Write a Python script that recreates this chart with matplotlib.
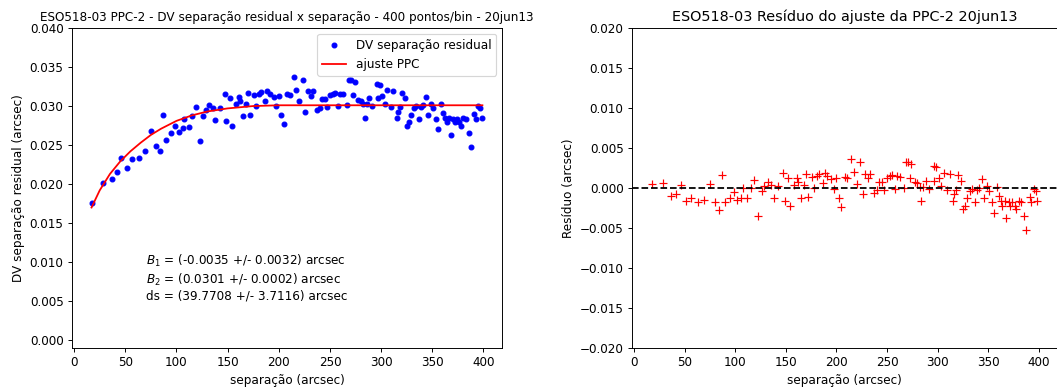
import matplotlib
matplotlib.use("Agg")
import matplotlib.pyplot as plt
import numpy as np

# binned points: separation (arcsec) and residual DV separation (arcsec)
sep = [17.3, 28.1, 36.9, 41.8, 46.0, 51.5, 56.4, 63.0, 69.5, 75.0,
       80.3, 83.5, 86.8, 89.4, 94.6, 98.9, 102.1, 106.0, 107.6, 111.9,
       115.1, 119.0, 122.7, 126.0, 128.9, 132.1, 135.4, 138.0, 142.3, 147.2,
       148.8, 152.0, 154.3, 158.2, 160.8, 162.5, 164.8, 168.0, 170.0, 172.3,
       175.5, 178.2, 180.4, 183.0, 186.3, 188.6, 191.2, 195.1, 197.7, 200.0,
       202.6, 204.9, 208.1, 210.8, 214.7, 217.3, 220.2, 223.5, 226.1, 228.4,
       231.6, 233.3, 237.5, 240.1, 242.4, 244.7, 247.3, 250.5, 252.8, 255.4,
       257.7, 259.6, 262.9, 266.8, 268.4, 270.7, 272.6, 274.0, 277.6, 279.9,
       282.2, 283.8, 285.8, 288.1, 291.4, 296.2, 296.9, 298.8, 301.1, 303.4,
       306.0, 309.3, 311.9, 315.1, 316.5, 318.4, 320.7, 323.0, 325.0, 327.2,
       329.5, 332.1, 333.8, 337.0, 338.7, 341.3, 343.9, 346.2, 348.5, 351.1,
       353.4, 355.7, 358.3, 360.6, 362.5, 364.2, 366.5, 368.1, 370.7, 372.1,
       374.0, 376.3, 377.9, 380.5, 382.8, 385.4, 387.7, 391.0, 392.6, 394.9,
       396.9, 398.5]
dv = [0.0176, 0.0202, 0.0206, 0.0216, 0.0234, 0.0221, 0.0232, 0.0234, 0.0242, 0.0268,
      0.0249, 0.0243, 0.0288, 0.0257, 0.0265, 0.0275, 0.0267, 0.0272, 0.0284, 0.0273,
      0.0287, 0.0299, 0.0255, 0.0287, 0.0295, 0.0301, 0.0298, 0.0282, 0.0297, 0.0315,
      0.0281, 0.0310, 0.0274, 0.0302, 0.0311, 0.0306, 0.0287, 0.0303, 0.0317, 0.0288,
      0.0314, 0.0300, 0.0315, 0.0318, 0.0306, 0.0319, 0.0315, 0.0312, 0.0300, 0.0313,
      0.0288, 0.0277, 0.0315, 0.0314, 0.0337, 0.0321, 0.0306, 0.0333, 0.0293, 0.0319,
      0.0313, 0.0319, 0.0295, 0.0298, 0.0309, 0.0309, 0.0299, 0.0314, 0.0316, 0.0317,
      0.0300, 0.0316, 0.0315, 0.0301, 0.0334, 0.0333, 0.0314, 0.0331, 0.0308, 0.0307,
      0.0302, 0.0285, 0.0302, 0.0310, 0.0300, 0.0328, 0.0310, 0.0327, 0.0313, 0.0303,
      0.0320, 0.0299, 0.0319, 0.0285, 0.0293, 0.0299, 0.0317, 0.0310, 0.0275, 0.0279,
      0.0289, 0.0297, 0.0300, 0.0283, 0.0299, 0.0301, 0.0312, 0.0288, 0.0303, 0.0297,
      0.0283, 0.0270, 0.0302, 0.0291, 0.0285, 0.0279, 0.0285, 0.0263, 0.0283, 0.0279,
      0.0284, 0.0279, 0.0275, 0.0285, 0.0283, 0.0266, 0.0248, 0.0290, 0.0284, 0.0300,
      0.0297, 0.0285]

# residuals of the fit at the same separations
resid = [0.0005, 0.0006, -0.0010, -0.0008, 0.0004, -0.0016, -0.0012, -0.0017, -0.0015, 0.0005,
         -0.0018, -0.0027, 0.0016, -0.0017, -0.0013, -0.0005, -0.0015, -0.0012, 0.0000, -0.0013,
         0.0000, 0.0010, -0.0035, -0.0004, 0.0003, 0.0008, 0.0004, -0.0013, 0.0002, 0.0019,
         -0.0016, 0.0013, -0.0023, 0.0004, 0.0013, 0.0008, -0.0012, 0.0004, 0.0018, -0.0011,
         0.0014, 0.0000, 0.0015, 0.0018, 0.0006, 0.0019, 0.0015, 0.0011, -0.0001, 0.0012,
         -0.0013, -0.0024, 0.0014, 0.0013, 0.0036, 0.0020, 0.0005, 0.0032, -0.0008, 0.0018,
         0.0012, 0.0018, -0.0006, -0.0003, 0.0008, 0.0008, -0.0002, 0.0013, 0.0015, 0.0016,
         -0.0001, 0.0015, 0.0014, 0.0000, 0.0033, 0.0032, 0.0013, 0.0030, 0.0007, 0.0006,
         0.0001, -0.0016, 0.0001, 0.0009, -0.0001, 0.0027, 0.0009, 0.0026, 0.0012, 0.0002,
         0.0019, -0.0002, 0.0018, -0.0016, -0.0008, -0.0002, 0.0016, 0.0009, -0.0026, -0.0022,
         -0.0012, -0.0004, -0.0001, -0.0018, -0.0002, 0.0000, 0.0011, -0.0013, 0.0002, -0.0004,
         -0.0018, -0.0031, 0.0001, -0.0010, -0.0016, -0.0022, -0.0016, -0.0038, -0.0018, -0.0022,
         -0.0017, -0.0022, -0.0026, -0.0016, -0.0018, -0.0035, -0.0053, -0.0011, -0.0017, -0.0001,
         -0.0004, -0.0016]

# fitted PPC curve
fit_x = [17, 25, 35, 45, 55, 65, 75, 85, 100, 115, 130, 150, 175, 200, 250, 300, 350, 399]
fit_y = [0.0170, 0.0192, 0.0213, 0.0229, 0.0242, 0.0253, 0.0263, 0.0271, 0.0281, 0.0288,
         0.0293, 0.0297, 0.0300, 0.0301, 0.0301, 0.0301, 0.0301, 0.0301]

fit_text = ("$B_1$ = (-0.0035 +/- 0.0032) arcsec\n"
            "$B_2$ = (0.0301 +/- 0.0002) arcsec\n"
            "ds = (39.7708 +/- 3.7116) arcsec")

dpi = 86
fig = plt.figure(figsize=(1057 / dpi, 389 / dpi), dpi=dpi)
ax1 = fig.add_axes([0.0681, 0.1054, 0.4068, 0.8226])
ax2 = fig.add_axes([0.5979, 0.1054, 0.4021, 0.8226])

ax1.plot(sep, dv, "bo", markersize=4, label="DV separação residual")
ax1.plot(fit_x, fit_y, "r-", linewidth=1.5, label="ajuste PPC")
ax1.set_ylim(-0.001, 0.040)
ax1.set_yticks(np.arange(0, 0.0401, 0.005))
ax1.set_xticks(range(0, 401, 50))
ax1.set_xlabel("separação (arcsec)")
ax1.set_ylabel("DV separação residual (arcsec)")
ax1.set_title("ESO518-03 PPC-2 - DV separação residual x separação - 400 pontos/bin - 20jun13",
              fontsize=10)
ax1.legend(loc="upper right")
ax1.text(70, 0.0048, fit_text, fontsize=10, va="bottom", ha="left")

ax2.plot(sep, resid, "r+", markersize=6)
ax2.axhline(0, color="k", linestyle="--")
ax2.set_ylim(-0.020, 0.020)
ax2.set_xlim(ax1.get_xlim())
ax2.set_xticks(range(0, 401, 50))
ax2.set_xlabel("separação (arcsec)")
ax2.set_ylabel("Resíduo (arcsec)")
ax2.set_title("ESO518-03 Resíduo do ajuste da PPC-2 20jun13")

fig.savefig("out.png", dpi=dpi)
